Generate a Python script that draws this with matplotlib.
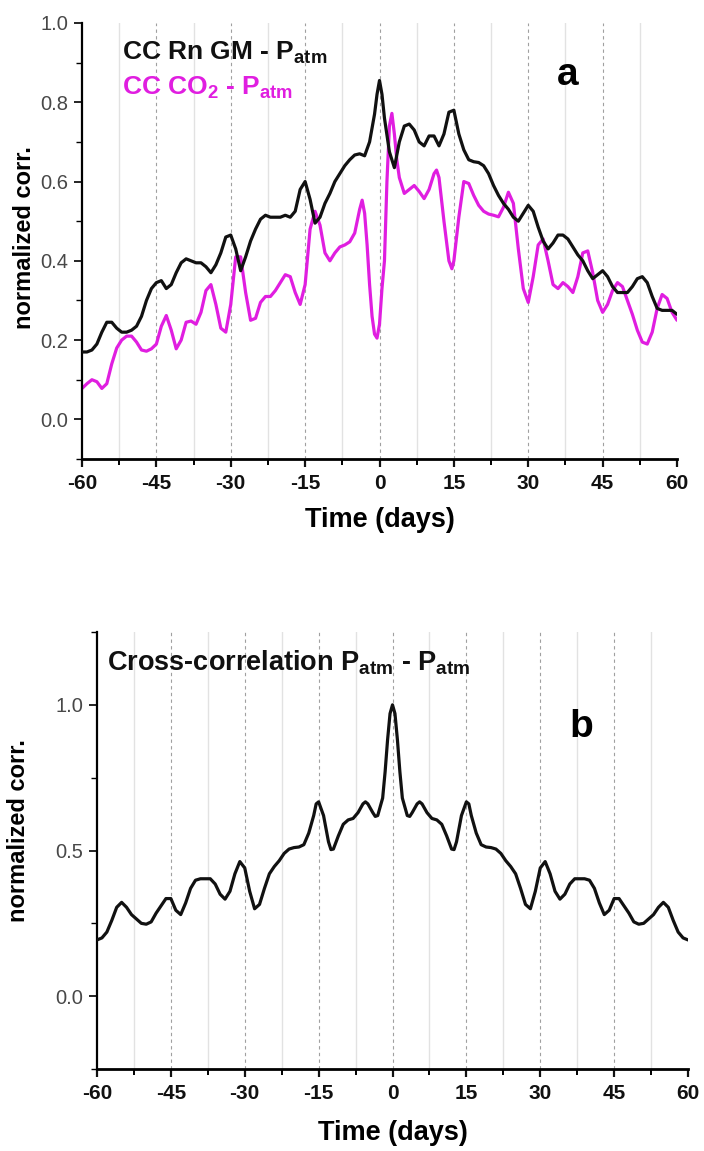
import matplotlib
matplotlib.use("Agg")
import matplotlib.pyplot as plt

plt.rcParams['font.family'] = ['Liberation Sans', 'DejaVu Sans']
plt.rcParams['mathtext.fontset'] = 'custom'
plt.rcParams['mathtext.rm'] = 'Liberation Sans'
plt.rcParams['mathtext.bf'] = 'Liberation Sans:bold'
plt.rcParams['mathtext.it'] = 'Liberation Sans:italic'
plt.rcParams['axes.unicode_minus'] = False

# ---------------- data ----------------
# Panel a: cross-correlation of Rn (GM) with atmospheric pressure
lag_rn = [-60, -59, -58, -57, -56, -55, -54, -53, -52, -51,
          -50, -49, -48, -47, -46, -45, -44, -43, -42, -41,
          -40, -39, -38, -37, -36, -35, -34, -33, -32, -31,
          -30, -29, -28, -27, -26, -25, -24, -23, -22, -21,
          -20, -19, -18, -17, -16, -15, -14, -13, -12, -11,
          -10, -9, -8, -7, -6, -5, -4, -3, -2, -1, -0.5,
          0, 0.5, 1, 2, 3, 4, 5, 6, 7, 8, 9,
          10, 11, 12, 13, 14, 15, 16, 17, 18, 19,
          20, 21, 22, 23, 24, 25, 26, 27, 28, 29,
          30, 31, 32, 33, 34, 35, 36, 37, 38, 39,
          40, 41, 42, 43, 44, 45, 46, 47, 48, 49,
          50, 51, 52, 53, 54, 55, 56, 57, 58, 59, 60]
cc_rn = [0.170, 0.170, 0.175, 0.190, 0.220, 0.245, 0.245, 0.230, 0.220, 0.220,
         0.225, 0.235, 0.260, 0.300, 0.330, 0.345, 0.350, 0.330, 0.340, 0.370,
         0.395, 0.405, 0.400, 0.395, 0.395, 0.385, 0.370, 0.390, 0.420, 0.460,
         0.465, 0.430, 0.375, 0.410, 0.450, 0.480, 0.505, 0.515, 0.510, 0.510,
         0.510, 0.515, 0.510, 0.525, 0.580, 0.600, 0.555, 0.495, 0.510, 0.545,
         0.570, 0.600, 0.620, 0.640, 0.655, 0.667, 0.670, 0.665, 0.700, 0.770, 0.820,
         0.855, 0.820, 0.760, 0.675, 0.635, 0.700, 0.740, 0.745, 0.730, 0.700, 0.690,
         0.715, 0.715, 0.690, 0.720, 0.775, 0.780, 0.720, 0.680, 0.655, 0.650,
         0.648, 0.640, 0.620, 0.590, 0.565, 0.545, 0.530, 0.510, 0.500, 0.520,
         0.540, 0.525, 0.485, 0.450, 0.430, 0.445, 0.465, 0.465, 0.455, 0.435,
         0.415, 0.400, 0.375, 0.355, 0.365, 0.375, 0.360, 0.335, 0.320, 0.320,
         0.320, 0.335, 0.355, 0.360, 0.345, 0.310, 0.280, 0.275, 0.275, 0.275, 0.265]

# Panel a: cross-correlation of CO2 with atmospheric pressure
lag_co2 = [-60, -59, -58, -57, -56, -55, -54, -53, -52, -51,
           -50, -49, -48, -47, -46, -45, -44, -43, -42, -41,
           -40, -39, -38, -37, -36, -35, -34, -33, -32, -31,
           -30, -29, -28, -27, -26, -25, -24, -23, -22, -21,
           -20, -19, -18, -17, -16, -15, -14, -13, -12, -11,
           -10, -9, -8, -7, -6, -5, -4, -3.5, -3, -2.5, -2, -1.5, -1, -0.5,
           0, 0.5, 1, 1.5, 2, 2.5, 3, 3.5, 4, 5, 6, 7, 8, 9,
           10, 11, 11.5, 12, 13, 14, 14.6, 15, 16, 17, 18, 19,
           20, 21, 22, 23, 24, 25, 26, 27, 28, 29,
           30, 31, 32, 33, 34, 35, 36, 37, 38, 39,
           40, 41, 42, 43, 44, 45, 46, 47, 48, 49,
           50, 51, 52, 53, 54, 55, 56, 57, 58, 59, 60]
cc_co2 = [0.078, 0.090, 0.100, 0.095, 0.078, 0.090, 0.140, 0.180, 0.200, 0.210,
          0.210, 0.195, 0.175, 0.172, 0.178, 0.190, 0.235, 0.262, 0.225, 0.178,
          0.200, 0.245, 0.248, 0.240, 0.270, 0.325, 0.340, 0.290, 0.230, 0.220,
          0.290, 0.410, 0.410, 0.320, 0.250, 0.255, 0.295, 0.310, 0.310, 0.325,
          0.345, 0.365, 0.360, 0.320, 0.290, 0.340, 0.480, 0.525, 0.490, 0.420,
          0.400, 0.420, 0.435, 0.440, 0.448, 0.470, 0.530, 0.553, 0.520, 0.440, 0.340, 0.260, 0.215, 0.205,
          0.240, 0.330, 0.400, 0.600, 0.740, 0.772, 0.720, 0.654, 0.610, 0.570, 0.580, 0.590, 0.575, 0.557,
          0.580, 0.620, 0.629, 0.610, 0.500, 0.400, 0.380, 0.400, 0.510, 0.600, 0.595, 0.565,
          0.540, 0.525, 0.518, 0.515, 0.511, 0.535, 0.573, 0.545, 0.430, 0.330,
          0.295, 0.360, 0.440, 0.455, 0.400, 0.340, 0.330, 0.345, 0.335, 0.320,
          0.360, 0.420, 0.425, 0.370, 0.300, 0.270, 0.290, 0.325, 0.345, 0.335,
          0.300, 0.265, 0.225, 0.195, 0.190, 0.220, 0.280, 0.315, 0.305, 0.270, 0.250]

# Panel b: auto-correlation of atmospheric pressure
lag_patm = [-60, -59, -58, -57, -56, -55, -54, -53, -52, -51,
            -50, -49, -48, -47, -46, -45, -44, -43, -42, -41,
            -40, -39, -38, -37, -36, -35, -34, -33, -32, -31,
            -30, -29, -28, -27, -26, -25, -24, -23, -22, -21,
            -20, -19, -18, -17, -16, -15.5, -15, -14, -13, -12.5, -12, -11,
            -10, -9, -8, -7, -6, -5.5, -5, -4, -3.5, -3, -2, -1.5, -1, -0.5,
            0, 0.5, 1, 1.5, 2, 3, 3.5, 4, 5, 5.5, 6, 7, 8, 9,
            10, 11, 12, 12.5, 13, 14, 15, 15.5, 16, 17, 18, 19,
            20, 21, 22, 23, 24, 25, 26, 27, 28, 29,
            30, 31, 32, 33, 34, 35, 36, 37, 38, 39,
            40, 41, 42, 43, 44, 45, 46, 47, 48, 49,
            50, 51, 52, 53, 54, 55, 56, 57, 58, 59, 60]
cc_patm = [0.193, 0.200, 0.220, 0.260, 0.305, 0.322, 0.305, 0.280, 0.265, 0.250,
           0.247, 0.255, 0.285, 0.310, 0.335, 0.335, 0.295, 0.280, 0.320, 0.370,
           0.398, 0.403, 0.403, 0.403, 0.385, 0.350, 0.333, 0.360, 0.420, 0.462,
           0.440, 0.360, 0.300, 0.315, 0.370, 0.420, 0.445, 0.465, 0.490, 0.505,
           0.510, 0.512, 0.520, 0.560, 0.620, 0.660, 0.667, 0.620, 0.530, 0.503, 0.505, 0.550,
           0.590, 0.605, 0.610, 0.630, 0.660, 0.667, 0.660, 0.630, 0.617, 0.620, 0.680, 0.770, 0.880, 0.970,
           1.000, 0.970, 0.880, 0.770, 0.680, 0.620, 0.617, 0.630, 0.660, 0.667, 0.660, 0.630, 0.610, 0.605,
           0.590, 0.550, 0.505, 0.503, 0.530, 0.620, 0.667, 0.660, 0.620, 0.560, 0.520, 0.512,
           0.510, 0.505, 0.490, 0.465, 0.445, 0.420, 0.370, 0.315, 0.300, 0.360,
           0.440, 0.462, 0.420, 0.360, 0.333, 0.350, 0.385, 0.403, 0.403, 0.403,
           0.398, 0.370, 0.320, 0.280, 0.295, 0.335, 0.335, 0.310, 0.285, 0.255,
           0.247, 0.250, 0.265, 0.280, 0.305, 0.322, 0.305, 0.260, 0.220, 0.200, 0.193]

x_ticks = [-60, -45, -30, -15, 0, 15, 30, 45, 60]
x_minor = [-52.5, -37.5, -22.5, -7.5, 7.5, 22.5, 37.5, 52.5]
ya_ticks = [0.0, 0.2, 0.4, 0.6, 0.8, 1.0]
ya_minor = [-0.1, 0.1, 0.3, 0.5, 0.7, 0.9]
yb_ticks = [0.0, 0.5, 1.0]
yb_minor = [-0.25, 0.25, 0.75, 1.25]

BLACK = '#111111'
MAGENTA = '#e01ee0'
LINE_KW = dict(lw=2.3, solid_joinstyle='round', solid_capstyle='round')

# ---------------- figure ----------------
fig = plt.figure(figsize=(7.04, 11.51), dpi=100)
ax_a = fig.add_axes([82 / 704, 1 - 459 / 1151, 595 / 704, 436 / 1151])
ax_b = fig.add_axes([97 / 704, 1 - 1069 / 1151, 591 / 704, 437 / 1151])


def style_axes(ax, ylim, yt, ym):
    ax.set_xlim(-60, 60)
    ax.set_ylim(*ylim)
    for side in ('top', 'right'):
        ax.spines[side].set_visible(False)
    ax.spines['bottom'].set_linewidth(2.0)
    ax.spines['left'].set_linewidth(1.6)
    ax.set_xticks(x_ticks)
    ax.set_xticklabels([f'{t:d}' for t in x_ticks])
    ax.set_xticks(x_minor, minor=True)
    ax.set_yticks(yt)
    ax.set_yticklabels([f'{t:.1f}' for t in yt])
    ax.set_yticks(ym, minor=True)
    ax.tick_params(axis='x', which='major', direction='out', length=6, width=1.6,
                   pad=5, labelsize=15, colors='#111111')
    ax.tick_params(axis='x', which='minor', direction='out', length=4, width=1.4)
    ax.tick_params(axis='y', which='major', direction='out', length=6, width=1.2,
                   pad=4, labelsize=14.5, labelcolor='#484848')
    ax.tick_params(axis='y', which='minor', direction='out', length=4, width=1.0)
    for lab in ax.get_xticklabels():
        lab.set_fontweight('bold')
    # vertical reference lines
    for x in x_ticks[1:-1]:
        ax.axvline(x, color='#a0a0a0', lw=0.8, ls=(0, (3, 3)), zorder=0)
    for x in x_minor:
        ax.axvline(x, color='#e2e2e2', lw=1.0, zorder=0)


style_axes(ax_a, (-0.1, 1.0), ya_ticks, ya_minor)
style_axes(ax_b, (-0.25, 1.25), yb_ticks, yb_minor)

# panel a curves
ax_a.plot(lag_rn, cc_rn, color=BLACK, zorder=3, **LINE_KW)
ax_a.plot(lag_co2, cc_co2, color=MAGENTA, zorder=2, **LINE_KW)
ax_a.text(0.067, 0.931, r'CC Rn GM - P$_{\mathbf{atm}}$', transform=ax_a.transAxes,
          fontsize=19, fontweight='bold', color=BLACK, va='center', ha='left')
ax_a.text(0.067, 0.851, r'CC CO$_{\mathbf{2}}$ - P$_{\mathbf{atm}}$', transform=ax_a.transAxes,
          fontsize=19, fontweight='bold', color=MAGENTA, va='center', ha='left')
ax_a.text(0.817, 0.881, 'a', transform=ax_a.transAxes, fontsize=28,
          fontweight='bold', va='center', ha='center')
ax_a.set_xlabel('Time (days)', fontsize=19.5, fontweight='bold', va='center')
ax_a.xaxis.set_label_coords(0.5, -0.14)
ax_a.set_ylabel('normalized corr.', fontsize=17, fontweight='bold', va='center')
ax_a.yaxis.set_label_coords(-0.097, 0.507)

# panel b curve
ax_b.plot(lag_patm, cc_patm, color=BLACK, zorder=3, **LINE_KW)
ax_b.text(0.017, 0.929, r'Cross-correlation P$_{\mathbf{atm}}$ - P$_{\mathbf{atm}}$',
          transform=ax_b.transAxes, fontsize=19.5, fontweight='bold', color=BLACK,
          va='center', ha='left')
ax_b.text(0.82, 0.783, 'b', transform=ax_b.transAxes, fontsize=28,
          fontweight='bold', va='center', ha='center')
ax_b.set_xlabel('Time (days)', fontsize=19.5, fontweight='bold', va='center')
ax_b.xaxis.set_label_coords(0.5, -0.146)
ax_b.set_ylabel('normalized corr.', fontsize=17, fontweight='bold', va='center')
ax_b.yaxis.set_label_coords(-0.132, 0.545)

fig.savefig('out.png', dpi=100)
